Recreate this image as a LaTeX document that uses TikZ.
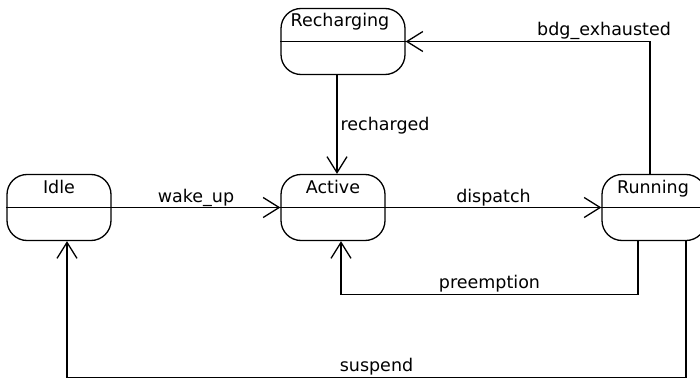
\documentclass[tikz,border=0pt]{standalone}
\usepackage{fontspec}
\setmainfont{DejaVu Sans}
\usetikzlibrary{arrows.meta}
\tikzset{
  statebox/.style={draw, line width=1.3pt, rounded corners=20pt,
    minimum width=104pt, minimum height=66pt, inner sep=0pt},
  statename/.style={anchor=base, inner sep=0pt, font=\fontsize{17.5}{20}\selectfont},
  divider/.style={line width=1.3pt},
  conn/.style={line width=1.3pt, -{Straight Barb[length=16pt,width=20pt,line width=1.3pt]}},
  labelfont/.style={inner sep=0pt, font=\fontsize{17.5}{20}\selectfont},
  connlabel/.style={labelfont, anchor=base, yshift=5.5pt},
  sidelabel/.style={labelfont, anchor=base west, xshift=3pt}
}
\begin{document}
\begin{tikzpicture}[x=1pt, y=-1pt]
  \useasboundingbox (0,0) rectangle (700,377);

  % states
  \node[statebox, minimum width=124pt] (recharging) at (343,41.5) {};
  \node[statebox] (idle)    at (59,207.5)  {};
  \node[statebox] (active)  at (333,207.5) {};
  \node[statebox] (running) at (654,207.5) {};

  % compartment dividers
  \draw[divider] (recharging.west) -- (recharging.east);
  \draw[divider] (idle.west) -- (idle.east);
  \draw[divider] (active.west) -- (active.east);
  \draw[divider] (running.west) -- (running.east);

  % state names
  \node[statename] (tRecharging) at (340,27)  {Recharging};
  \node[statename] (tIdle)       at (59,193)  {Idle};
  \node[statename] (tActive)     at (333,193) {Active};
  \node[statename] (tRunning)    at (653,193) {Running};

  % transitions
  \draw[conn] (idle.east) -- node[connlabel] {wake\_up} (active.west);
  \draw[conn] (active.east) -- node[connlabel] {dispatch} (running.west);
  \draw[conn] ([xshift=4]recharging.south -| active.north) --
    node[sidelabel, pos=0.56] {recharged} ([xshift=4]active.north);
  \draw[conn] ([xshift=-4]running.north) |- node[connlabel, pos=0.594] {bdg\_exhausted} (recharging.east);
  \draw[conn] ([xshift=-16]running.south) -- ++(0,53)
    -| node[connlabel, pos=0.25] {preemption} ([xshift=8]active.south);
  \draw[conn] ([xshift=32]running.south) -- ++(0,136)
    -| node[connlabel, pos=0.25] {suspend} ([xshift=8]idle.south);
\end{tikzpicture}
\end{document}
